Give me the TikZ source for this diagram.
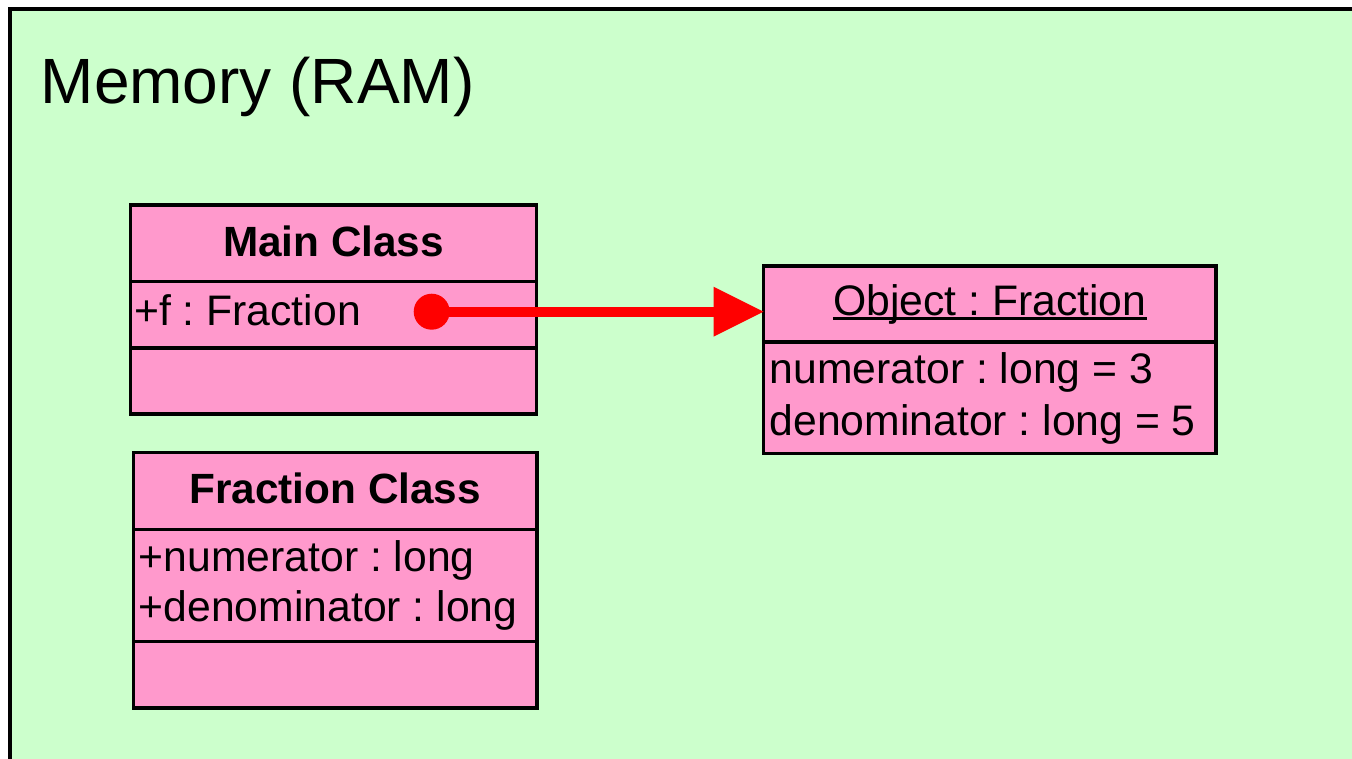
\documentclass[tikz,border=0pt]{standalone}
\usepackage{fontspec}
\setmainfont{Liberation Sans}
\usetikzlibrary{arrows.meta}
\definecolor{memgreen}{HTML}{CCFFCC}
\definecolor{umlpink}{HTML}{FF99CC}
\definecolor{refred}{HTML}{FF0000}
\frenchspacing
\begin{document}
\begin{tikzpicture}[x=1pt,y=-1pt,
  compart/.style={draw=black, fill=umlpink, line width=3.5pt, rectangle, inner sep=0pt, outer sep=0pt, anchor=north west},
  boxtext/.style={inner sep=0pt, anchor=base west, font=\fontsize{42.7}{50}\selectfont},
  headtext/.style={inner sep=0pt, anchor=base, font=\fontsize{42.3}{50}\selectfont\bfseries},
  objtext/.style={inner sep=0pt, anchor=base, font=\fontsize{42.7}{50}\selectfont},
  refarrow/.style={draw=refred, line width=10pt, -{Triangle[length=50pt,width=50pt,line width=0pt]}},
  refdot/.style={circle, fill=refred, minimum size=36pt, inner sep=0pt}]
\useasboundingbox (0,0) rectangle (1352,758);
\clip (0,0) rectangle (1352,758);
% memory area
\draw[line width=4pt, fill=memgreen] (10,9) rectangle (1400,800);
\node[inner sep=0pt, anchor=base west, font=\fontsize{64}{70}\selectfont] (title) at (40.5,103) {Memory (RAM)};
% Main Class
\node[compart, minimum width=406pt, minimum height=76.5pt] (mainname) at (130.5,205) {};
\node[compart, minimum width=406pt, minimum height=66.5pt] (mainattr) at (130.5,281.5) {};
\node[compart, minimum width=406pt, minimum height=66pt] (mainops) at (130.5,348) {};
\node[headtext] (mainnametxt) at (333.5,256) {Main Class};
\node[boxtext] (mainattrtxt) at (134,325) {+f : Fraction};
% Fraction Class
\node[compart, minimum width=403.5pt, minimum height=77pt] (fracname) at (133.5,452.5) {};
\node[compart, minimum width=403.5pt, minimum height=112pt] (fracattr) at (133.5,529.5) {};
\node[compart, minimum width=403.5pt, minimum height=66.5pt] (fracops) at (133.5,641.5) {};
\node[headtext] (fracnametxt) at (335.25,503) {Fraction Class};
\node[boxtext] (fracattrtxta) at (138.5,571.5) {+numerator : long};
\node[boxtext] (fracattrtxtb) at (138.5,621.5) {+denominator : long};
% Object : Fraction
\node[compart, minimum width=452.5pt, minimum height=76pt] (objname) at (763.5,266) {};
\node[compart, minimum width=452.5pt, minimum height=111.5pt] (objattr) at (763.5,342) {};
\node[objtext] (objnametxt) at (989.75,315.7) {Object : Fraction};
\draw[line width=2.5pt] ([yshift=-3pt]objnametxt.base west) -- ([yshift=-3pt]objnametxt.base east);
\node[boxtext] (objattrtxta) at (769.5,383.3) {numerator : long = 3};
\node[boxtext] (objattrtxtb) at (769.5,435) {denominator : long = 5};
% reference
\node[refdot] (dot) at (431.7,311.7) {};
\draw[refarrow] (dot.center) -- (dot.center -| objname.west);
\end{tikzpicture}
\end{document}
